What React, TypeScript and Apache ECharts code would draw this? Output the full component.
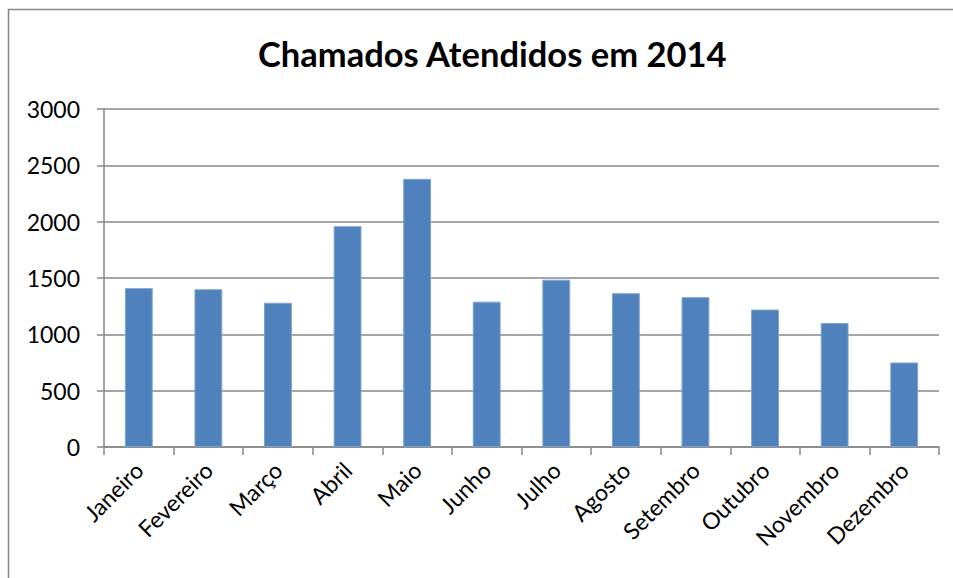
import React, { useEffect, useRef } from "react";
import * as echarts from "echarts";

const months = [
  "Janeiro", "Fevereiro", "Março", "Abril", "Maio", "Junho",
  "Julho", "Agosto", "Setembro", "Outubro", "Novembro", "Dezembro",
];
const calls = [1410, 1400, 1280, 1960, 2380, 1290, 1485, 1365, 1330, 1220, 1100, 750];
const titleText = "Chamados Atendidos em 2014";
const yMin = 0;
const yMax = 3000;
const yStep = 500;

export default function App() {
  const ref = useRef<HTMLDivElement>(null);
  useEffect(() => {
    if (!ref.current) return;
    const chart = echarts.init(ref.current, null, { renderer: "svg" });
    const gray = "#878787";
    chart.setOption({
      animation: false,
      backgroundColor: "#ffffff",
      title: {
        text: titleText,
        left: 253,
        top: 31,
        textStyle: {
          fontFamily: "Lato",
          fontWeight: "bold",
          fontSize: 34.5,
          color: "#000",
        },
      },
      graphic: [
        {
          type: "rect",
          shape: { x: 8.5, y: 9.5, width: 1000, height: 700 },
          style: { fill: "none", stroke: gray, lineWidth: 1.5 },
          silent: true,
        },
      ],
      grid: { left: 104, right: 14, top: 109, bottom: 131 },
      xAxis: {
        type: "category",
        data: months,
        axisLine: { show: true, lineStyle: { color: gray, width: 1.5 } },
        axisTick: { show: true, length: 8, lineStyle: { color: gray, width: 1.5 } },
        axisLabel: {
          rotate: 45,
          fontFamily: "Lato",
          fontSize: 23,
          color: "#000",
          margin: 19,
          interval: 0,
        },
      },
      yAxis: {
        type: "value",
        min: yMin,
        max: yMax,
        interval: yStep,
        axisLine: { show: true, lineStyle: { color: gray, width: 1.5 } },
        axisTick: { show: true, length: 7, lineStyle: { color: gray, width: 1.5 } },
        splitLine: { show: true, lineStyle: { color: gray, width: 1.5 } },
        axisLabel: {
          fontFamily: "Lato",
          fontSize: 23,
          color: "#000",
          margin: 24,
          formatter: (v: number) => String(v),
        },
      },
      series: [
        {
          type: "bar",
          data: calls,
          barWidth: "40%",
          itemStyle: { color: "#4F81BD", borderColor: "#7fa3d1", borderWidth: 1 },
        },
      ],
    });
    return () => chart.dispose();
  }, []);
  return (
    <div
      ref={ref}
      style={{ position: "fixed", left: 0, top: 0, width: 953, height: 578 }}
    />
  );
}
